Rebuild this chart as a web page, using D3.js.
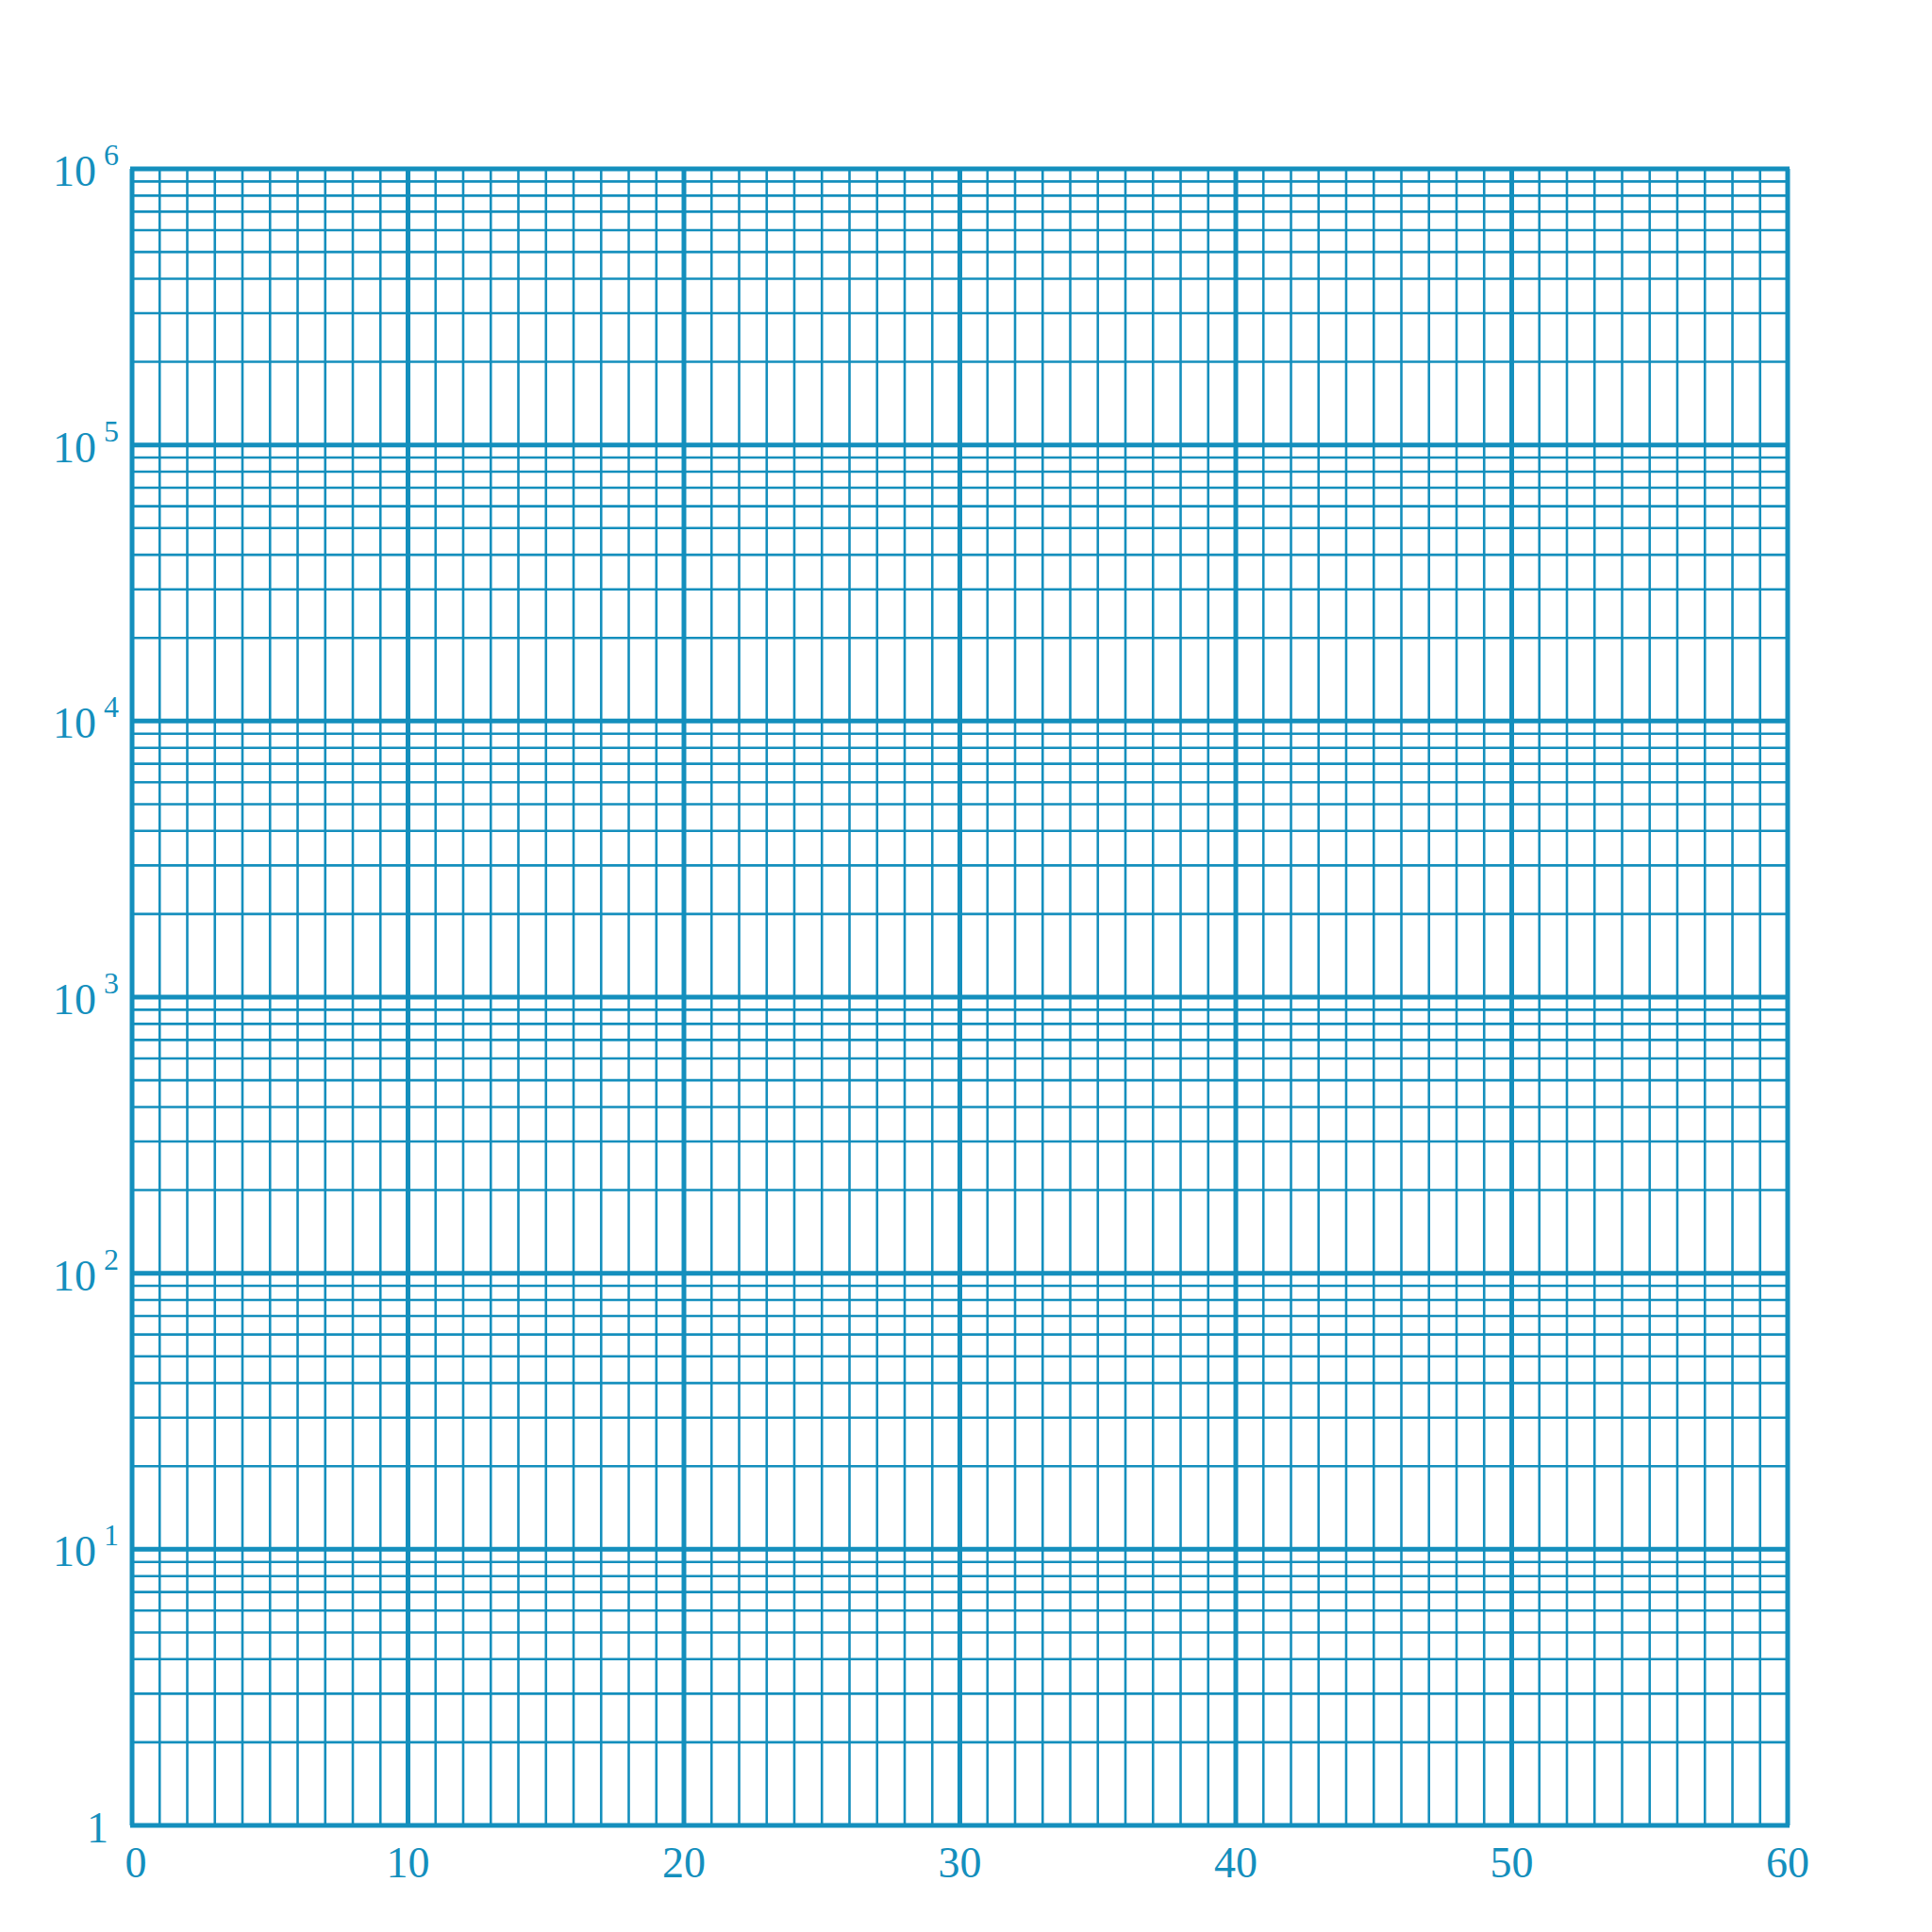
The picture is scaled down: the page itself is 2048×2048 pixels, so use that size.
<!DOCTYPE html><html><head><meta charset="utf-8">
<script src="https://cdn.jsdelivr.net/npm/d3@7"></script>
<style>body{margin:0;background:#fff}</style></head><body>
<svg id="c" width="2048" height="2048"></svg>
<script>
const xTicks=[0,10,20,30,40,50,60];
const yDecades=[1,10,100,1000,10000,100000,1000000];
const yExponents=["","1","2","3","4","5","6"];
const col="#148fbd";
const L=140,R=1895,T=179,B=1935;
const svg=d3.select("#c");
const x=d3.scaleLinear().domain([0,60]).range([L,R]);
const y=d3.scaleLog().domain([1,1e6]).range([B,T]);
const g=svg.append("g");
d3.range(0,61).forEach(v=>{
  const major=v%10===0;
  g.append("line").attr("x1",x(v)).attr("x2",x(v)).attr("y1",y(1e6)).attr("y2",y(1))
   .attr("stroke",col).attr("stroke-width",major?5:2.6);
});
const yMinor=[];
yDecades.slice(0,-1).forEach(d=>{for(let k=2;k<=9;k++)yMinor.push(d*k);});
yMinor.forEach(v=>g.append("line").attr("x1",x(0)).attr("x2",x(60)).attr("y1",y(v)).attr("y2",y(v)).attr("stroke",col).attr("stroke-width",2.6));
yDecades.forEach(v=>g.append("line").attr("x1",x(0)-2).attr("x2",x(60)+2).attr("y1",y(v)).attr("y2",y(v)).attr("stroke",col).attr("stroke-width",5));
const font="'Liberation Serif', serif";
xTicks.forEach(v=>svg.append("text").attr("x",x(v)+(v===0?4:0)).attr("y",B+55).attr("text-anchor","middle")
  .attr("font-family",font).attr("font-size",46).attr("fill",col).text(v));
yDecades.forEach((v,i)=>{
  const t=svg.append("text").attr("x",i===0?115:102).attr("y",y(v)+18).attr("text-anchor","end")
    .attr("font-family",font).attr("font-size",46).attr("fill",col);
  t.text(i===0?"1":"10");
  if(i>0) svg.append("text").attr("x",110).attr("y",y(v)-4).attr("font-family",font).attr("font-size",32)
    .attr("fill",col).attr("text-anchor","start").text(yExponents[i]);
});
</script></body></html>
